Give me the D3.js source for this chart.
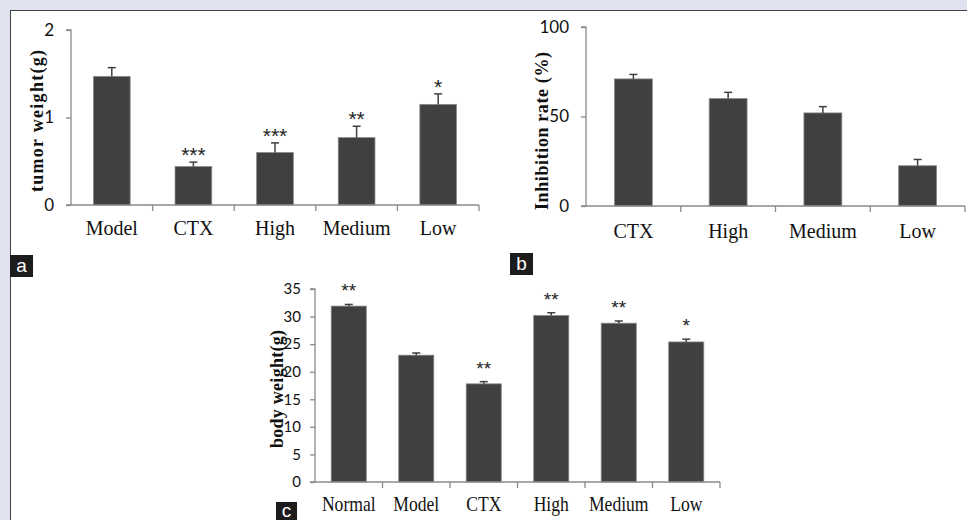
<!DOCTYPE html>
<html><head><meta charset="utf-8">
<script src="https://cdn.jsdelivr.net/npm/d3@7"></script>
<style>
html,body{margin:0;padding:0;background:#dfe3f0;}
svg{display:block;}
</style></head>
<body>
<script>
// ---- Data ----
const catsA = ["Model","CTX","High","Medium","Low"];
const valsA = [1.47, 0.44, 0.60, 0.77, 1.15];
const errA  = [0.10, 0.05, 0.11, 0.13, 0.12];
const starsA = ["", "***", "***", "**", "*"];
const ticksA = [0, 1, 2];

const catsB = ["CTX","High","Medium","Low"];
const valsB = [71, 60, 52, 22.5];
const errB  = [2.5, 3.5, 3.5, 3.5];
const starsB = ["", "", "", ""];
const ticksB = [0, 50, 100];

const catsC = ["Normal","Model","CTX","High","Medium","Low"];
const valsC = [31.9, 23.0, 17.8, 30.2, 28.8, 25.4];
const errC  = [0.3, 0.4, 0.4, 0.5, 0.4, 0.5];
const starsC = ["**", "", "**", "**", "**", "*"];
const ticksC = [0, 5, 10, 15, 20, 25, 30, 35];

const W = 967, H = 520;
const svg = d3.select("body").append("svg").attr("width", W).attr("height", H);

// panel
svg.append("rect").attr("x",0).attr("y",0).attr("width",W).attr("height",H).attr("fill","#dfe3f0");
svg.append("rect").attr("x",10).attr("y",10).attr("width",W-10).attr("height",H-10).attr("fill","#ffffff");
svg.append("line").attr("x1",10).attr("x2",W).attr("y1",10.5).attr("y2",10.5).attr("stroke","#444").attr("stroke-width",1);
svg.append("line").attr("x1",10.5).attr("x2",10.5).attr("y1",10).attr("y2",H).attr("stroke","#444").attr("stroke-width",1);

const AXIS = "#8a8a8a", BAR = "#404040";

function drawChart(o) {
  const g = svg.append("g");
  const x = d3.scaleBand().domain(o.cats).range(o.xr).paddingInner(o.pad).paddingOuter(o.pad/2);
  const y = d3.scaleLinear().domain(o.dom).range(o.yr);
  const step = x.step();
  // bars
  g.selectAll("rect.bar").data(o.cats).join("rect")
    .attr("x", d => x(d)).attr("width", x.bandwidth())
    .attr("y", (d,i) => y(o.vals[i])).attr("height", (d,i) => y(0) - y(o.vals[i]))
    .attr("fill", BAR).attr("stroke", "#8a8a8a").attr("stroke-width", 0.8);
  // error bars
  o.cats.forEach((c,i) => {
    const cx = x(c) + x.bandwidth()/2;
    const y0 = y(o.vals[i]), y1 = y(o.vals[i] + o.errs[i]);
    g.append("line").attr("x1",cx).attr("x2",cx).attr("y1",y0).attr("y2",y1).attr("stroke",BAR).attr("stroke-width",1.5);
    g.append("line").attr("x1",cx-o.cap).attr("x2",cx+o.cap).attr("y1",y1).attr("y2",y1).attr("stroke",BAR).attr("stroke-width",1.5);
    if (o.stars[i]) {
      g.append("text").attr("x",cx).attr("y",y1 - o.starOff).attr("text-anchor","middle")
        .attr("font-family","Liberation Sans, Arial, sans-serif").attr("font-size",o.starSize).attr("fill","#222")
        .text(o.stars[i]);
    }
  });
  // y axis
  const ya = g.append("g").attr("transform",`translate(${o.xr[0]},0)`)
    .call(d3.axisLeft(y).tickValues(o.ticks).tickFormat(d3.format("d")).tickSize(5).tickPadding(o.tickPad));
  ya.select(".domain").attr("stroke",AXIS).attr("stroke-width",1.3).attr("d",`M-5,${y(o.dom[1])}H0V${y(0)}`);
  ya.selectAll(".tick line").attr("stroke",AXIS).attr("stroke-width",1.3);
  ya.selectAll(".tick text").attr("font-family","Lato, 'Open Sans', sans-serif").attr("font-size",o.tickSize).attr("fill","#111");
  // x axis
  const xa = g.append("g");
  const y0px = y(0);
  xa.append("line").attr("x1",o.xr[0]-5).attr("x2",o.xr[1]).attr("y1",y0px).attr("y2",y0px).attr("stroke",AXIS).attr("stroke-width",1.3);
  o.cats.forEach((c,i) => {
    const bx = o.xr[0] + step*(i+1);
    xa.append("line").attr("x1",bx).attr("x2",bx).attr("y1",y0px).attr("y2",y0px+6).attr("stroke",AXIS).attr("stroke-width",1.3);
    const cx = x(c) + x.bandwidth()/2;
    xa.append("text").attr("text-anchor","middle")
      .attr("transform",`translate(${cx},${o.labY}) scale(${o.labSX},1)`)
      .attr("font-family","Liberation Serif, 'Times New Roman', serif").attr("font-size",o.labSize).attr("fill","#111")
      .text(c);
  });
  // y title
  g.append("text").attr("transform",`translate(${o.titleX},${o.titleY}) rotate(-90)`)
    .attr("text-anchor","middle").attr("font-family","Liberation Serif, 'Times New Roman', serif")
    .attr("font-weight","bold").attr("font-size",o.titleSize).attr("fill","#111")
    .attr("textLength",o.titleLen).attr("lengthAdjust","spacing")
    .text(o.title);
  // panel label
  g.append("rect").attr("x",o.lab[0]).attr("y",o.lab[1]).attr("width",o.lab[2]).attr("height",o.lab[3]).attr("fill","#1c1c1c");
  g.append("text").attr("x",o.lab[0]+o.lab[2]/2).attr("y",o.lab[1]+o.labBase).attr("text-anchor","middle")
    .attr("font-family","Liberation Sans, Arial, sans-serif").attr("font-size",19).attr("fill","#fff").text(o.letter);
}

drawChart({cats:catsA, vals:valsA, errs:errA, stars:starsA, ticks:ticksA,
  xr:[71,479], yr:[205,30], dom:[0,2], pad:0.55, cap:4, starOff:0, starSize:21,
  tickPad:12, tickSize:17, labY:235, labSize:20, labSX:1,
  title:"tumor weight(g)", titleX:43, titleY:121, titleSize:18, titleLen:142,
  lab:[10,255,23,22], labBase:17, letter:"a"});

drawChart({cats:catsB, vals:valsB, errs:errB, stars:starsB, ticks:ticksB,
  xr:[586,965], yr:[206,27], dom:[0,100], pad:0.6, cap:4, starOff:0, starSize:21,
  tickPad:12, tickSize:17, labY:238, labSize:20, labSX:1,
  title:"Inhibition rate (%)", titleX:548, titleY:131, titleSize:18, titleLen:158,
  lab:[510,253,23,22], labBase:17, letter:"b"});

drawChart({cats:catsC, vals:valsC, errs:errC, stars:starsC, ticks:ticksC,
  xr:[315,720], yr:[482,289], dom:[0,35], pad:0.48, cap:4, starOff:7, starSize:19,
  tickPad:9, tickSize:15, labY:511, labSize:20, labSX:0.88,
  title:"body weight(g)", titleX:283, titleY:389, titleSize:18, titleLen:118,
  lab:[276,502,21,18], labBase:15, letter:"c"});
</script>
</body></html>
